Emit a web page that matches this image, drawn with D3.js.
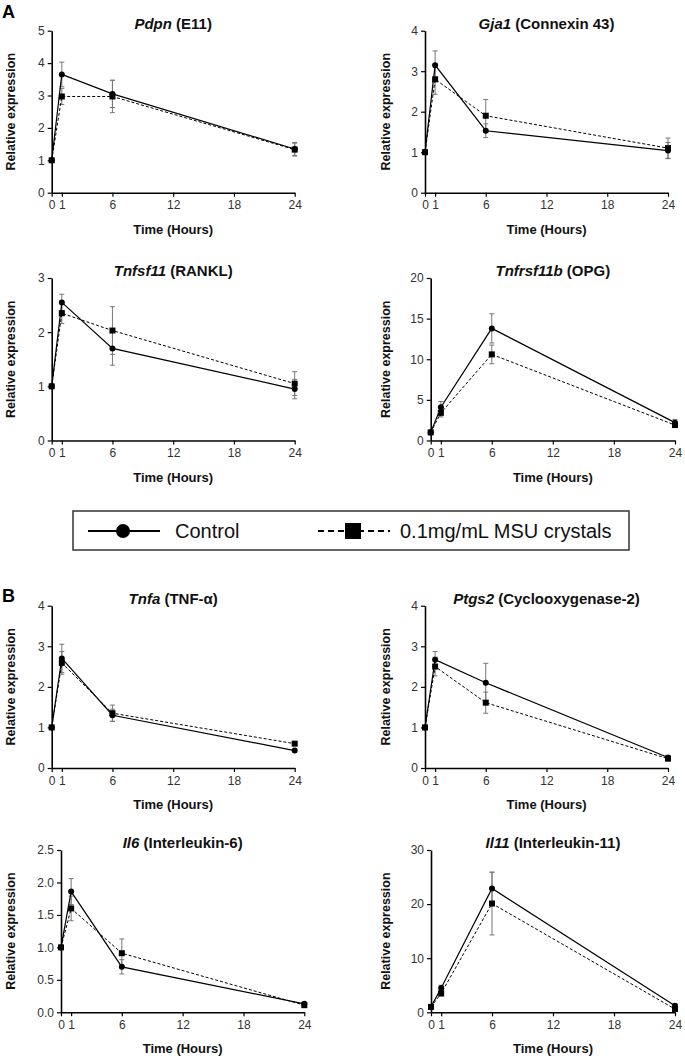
<!DOCTYPE html>
<html>
<head>
<meta charset="utf-8">
<script src="https://cdn.jsdelivr.net/npm/d3@7"></script>
<style>
  html, body { margin: 0; padding: 0; background: #fff; }
  svg { display: block; font-family: "Liberation Sans", Arial, sans-serif; }
</style>
</head>
<body>
<svg id="chart" width="685" height="1061"></svg>
<script>
// ---------- DATA ----------
const times = [0, 1, 6, 24];
const xTickValues = [0, 1, 6, 12, 18, 24];

const geneNames = ["Pdpn", "Gja1", "Tnfsf11", "Tnfrsf11b", "Tnfa", "Ptgs2", "Il6", "Il11"];
const proteinNames = ["(E11)", "(Connexin 43)", "(RANKL)", "(OPG)", "(TNF-\u03b1)", "(Cyclooxygenase-2)", "(Interleukin-6)", "(Interleukin-11)"];

const controlMeans = [
  [1.0, 3.65, 3.05, 1.35],
  [1.0, 3.15, 1.53, 1.04],
  [1.0, 2.55, 1.70, 0.95],
  [1.0, 4.1, 13.8, 2.2],
  [1.0, 2.70, 1.30, 0.43],
  [1.0, 2.67, 2.10, 0.26],
  [1.0, 1.86, 0.70, 0.13],
  [1.0, 4.5, 22.9, 1.2]
];
const controlErrs = [
  [0.0, 0.38, 0.42, 0.20],
  [0.0, 0.35, 0.17, 0.20],
  [0.0, 0.15, 0.31, 0.18],
  [0.0, 0.7, 1.8, 0.4],
  [0.0, 0.35, 0.15, 0.03],
  [0.0, 0.20, 0.48, 0.03],
  [0.0, 0.20, 0.11, 0.02],
  [0.0, 0.5, 3.0, 0.3]
];
const msuMeans = [
  [1.0, 2.97, 2.97, 1.33],
  [1.0, 2.80, 1.90, 1.10],
  [1.0, 2.35, 2.03, 1.05],
  [1.0, 3.4, 10.6, 1.9],
  [1.0, 2.59, 1.35, 0.60],
  [1.0, 2.50, 1.61, 0.23],
  [1.0, 1.60, 0.91, 0.11],
  [1.0, 3.5, 20.1, 0.6]
];
const msuErrs = [
  [0.0, 0.25, 0.50, 0.20],
  [0.0, 0.37, 0.40, 0.25],
  [0.0, 0.19, 0.44, 0.22],
  [0.0, 0.5, 1.15, 0.3],
  [0.0, 0.28, 0.20, 0.03],
  [0.0, 0.23, 0.26, 0.03],
  [0.0, 0.19, 0.22, 0.02],
  [0.0, 0.5, 5.8, 0.2]
];
const yTickValues = [
  [0, 1, 2, 3, 4, 5],
  [0, 1, 2, 3, 4],
  [0, 1, 2, 3],
  [0, 5, 10, 15, 20],
  [0, 1, 2, 3, 4],
  [0, 1, 2, 3, 4],
  [0, 0.5, 1.0, 1.5, 2.0, 2.5],
  [0, 10, 20, 30]
];
const yTickFormats = ["d", "d", "d", "d", "d", "d", ".1f", "d"];
const seriesNames = ["Control", "0.1mg/mL MSU crystals"];
const sectionLabels = ["A", "B"];
const xAxisTitle = "Time (Hours)";
const yAxisTitle = "Relative expression";

// ---------- LAYOUT ----------
const frames = [
  {x0: 51.7, x1: 294.7, y0: 30.7, y1: 192.7, lx: 10},
  {x0: 425,  x1: 668,   y0: 30.7, y1: 192.7, lx: 385},
  {x0: 51.7, x1: 294.7, y0: 278,  y1: 440.5, lx: 10},
  {x0: 430.7,x1: 675,   y0: 278,  y1: 440.5, lx: 385},
  {x0: 51.7, x1: 294.7, y0: 605.7,y1: 768,   lx: 10},
  {x0: 425,  x1: 668,   y0: 605.7,y1: 768,   lx: 385},
  {x0: 61,   x1: 304.3, y0: 850,  y1: 1012.3,lx: 10},
  {x0: 431,  x1: 675,   y0: 850,  y1: 1012.3,lx: 385}
];

const svg = d3.select("#chart");

frames.forEach((f, i) => {
  const x = d3.scaleLinear().domain([0, 24]).range([f.x0, f.x1]);
  const yMax = yTickValues[i][yTickValues[i].length - 1];
  const y = d3.scaleLinear().domain([0, yMax]).range([f.y1, f.y0]);
  const g = svg.append("g");

  // axes
  const xAxis = d3.axisBottom(x).tickValues(xTickValues).tickSize(4).tickSizeOuter(0).tickPadding(4).tickFormat(d3.format("d"));
  const yAxis = d3.axisLeft(y).tickValues(yTickValues[i]).tickSize(4).tickSizeOuter(0).tickPadding(3).tickFormat(d3.format(yTickFormats[i]));
  const gx = g.append("g").attr("transform", `translate(0,${f.y1})`).call(xAxis);
  const gy = g.append("g").attr("transform", `translate(${f.x0},0)`).call(yAxis);
  [gx, gy].forEach(a => {
    a.select(".domain").attr("stroke", "#000").attr("stroke-width", 1.6);
    a.selectAll(".tick line").attr("stroke", "#000").attr("stroke-width", 1.2);
    a.selectAll(".tick text").attr("fill", "#333").style("font-size", "12px")
      .style("font-family", '"Liberation Sans", Arial, sans-serif');
  });

  // titles
  const t = g.append("text")
    .attr("x", (f.x0 + f.x1) / 2).attr("y", f.y0 - 2)
    .attr("text-anchor", "middle").style("font-size", "15px").style("font-weight", "bold").attr("fill", "#111");
  t.append("tspan").style("font-style", "italic").text(geneNames[i]);
  t.append("tspan").text(" " + proteinNames[i]);

  g.append("text")
    .attr("transform", `translate(${f.lx + 4.5},${(f.y0 + f.y1) / 2}) rotate(-90)`)
    .attr("text-anchor", "middle").style("font-size", "12.5px").style("font-weight", "bold").attr("fill", "#111")
    .text(yAxisTitle);

  g.append("text")
    .attr("x", (f.x0 + f.x1) / 2).attr("y", f.y1 + 41)
    .attr("text-anchor", "middle").style("font-size", "13px").style("font-weight", "bold").attr("fill", "#111")
    .text(xAxisTitle);

  const series = [
    {means: controlMeans[i], errs: controlErrs[i], dash: null, shape: "circle"},
    {means: msuMeans[i], errs: msuErrs[i], dash: "3,2", shape: "square"}
  ];

  // error bars
  series.forEach(s => {
    const pts = times.map((tt, k) => ({t: tt, v: s.means[k], e: s.errs[k]})).filter(p => p.e > 0);
    const eg = g.append("g").attr("stroke", "#777").attr("stroke-width", 1);
    eg.selectAll("line.v").data(pts).enter().append("line")
      .attr("x1", d => x(d.t)).attr("x2", d => x(d.t))
      .attr("y1", d => y(d.v - d.e)).attr("y2", d => y(d.v + d.e));
    eg.selectAll("line.cu").data(pts).enter().append("line")
      .attr("x1", d => x(d.t) - 2.5).attr("x2", d => x(d.t) + 2.5)
      .attr("y1", d => y(d.v + d.e)).attr("y2", d => y(d.v + d.e));
    eg.selectAll("line.cl").data(pts).enter().append("line")
      .attr("x1", d => x(d.t) - 2.5).attr("x2", d => x(d.t) + 2.5)
      .attr("y1", d => y(d.v - d.e)).attr("y2", d => y(d.v - d.e));
  });

  // lines
  const line = d3.line().x(d => x(d.t)).y(d => y(d.v));
  series.forEach(s => {
    const pts = times.map((tt, k) => ({t: tt, v: s.means[k]}));
    g.append("path").datum(pts).attr("d", line)
      .attr("fill", "none").attr("stroke", "#000").attr("stroke-width", s.dash ? 1 : 1.2)
      .attr("stroke-dasharray", s.dash);
  });

  // markers
  series.forEach(s => {
    const pts = times.map((tt, k) => ({t: tt, v: s.means[k]}));
    if (s.shape === "circle") {
      g.selectAll(null).data(pts).enter().append("circle")
        .attr("cx", d => x(d.t)).attr("cy", d => y(d.v)).attr("r", 3).attr("fill", "#000");
    } else {
      g.selectAll(null).data(pts).enter().append("rect")
        .attr("x", d => x(d.t) - 3).attr("y", d => y(d.v) - 3).attr("width", 6).attr("height", 6).attr("fill", "#000");
    }
  });
});

// section labels
svg.append("text").attr("x", 2).attr("y", 18).style("font-size", "18px").style("font-weight", "bold").text(sectionLabels[0]);
svg.append("text").attr("x", 2).attr("y", 602).style("font-size", "18px").style("font-weight", "bold").text(sectionLabels[1]);

// legend
const lg = svg.append("g");
lg.append("rect").attr("x", 73).attr("y", 511).attr("width", 556).attr("height", 39)
  .attr("fill", "#fff").attr("stroke", "#333").attr("stroke-width", 1.5);
lg.append("line").attr("x1", 88).attr("x2", 160).attr("y1", 531).attr("y2", 531).attr("stroke", "#000").attr("stroke-width", 2.2);
lg.append("circle").attr("cx", 123).attr("cy", 531).attr("r", 7).attr("fill", "#000");
lg.append("text").attr("x", 175).attr("y", 538).style("font-size", "20px").attr("fill", "#111").text(seriesNames[0]);
lg.append("line").attr("x1", 318).attr("x2", 390).attr("y1", 531).attr("y2", 531).attr("stroke", "#000").attr("stroke-width", 2.2).attr("stroke-dasharray", "6,4");
lg.append("rect").attr("x", 345).attr("y", 523).attr("width", 16).attr("height", 16).attr("fill", "#000");
lg.append("text").attr("x", 400).attr("y", 538).style("font-size", "20px").attr("fill", "#111").text(seriesNames[1]);
</script>
</body>
</html>
